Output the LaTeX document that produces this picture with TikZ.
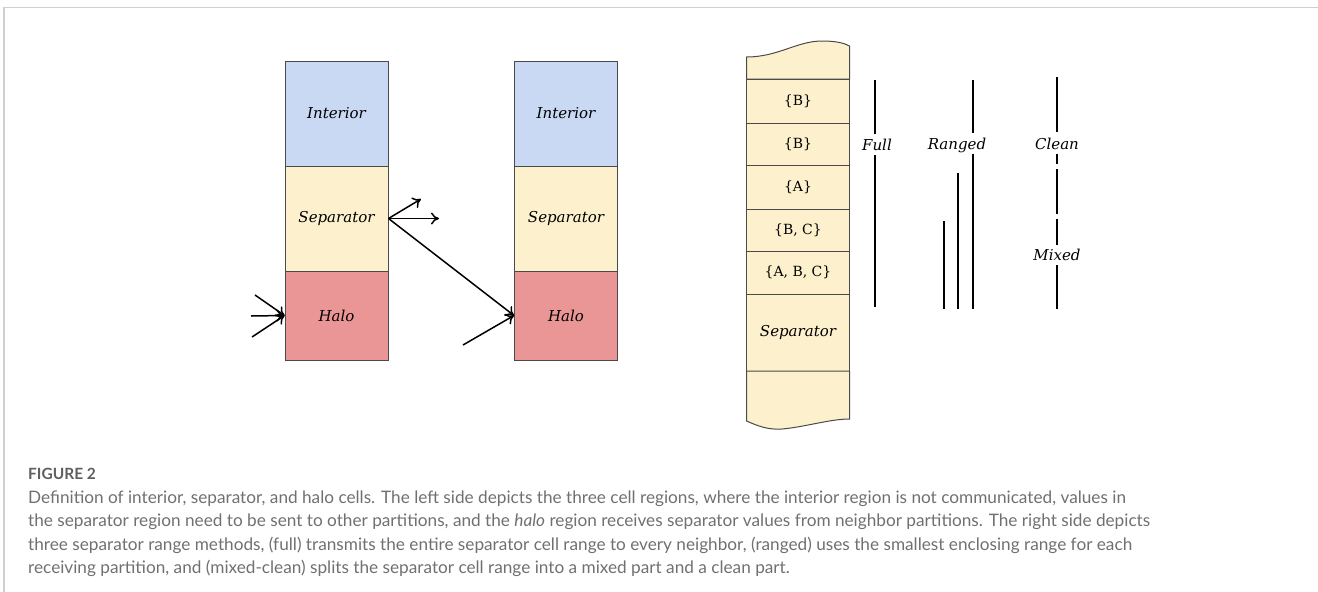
\documentclass[tikz,border=0pt]{standalone}
\usepackage{fontspec}
\setmainfont{DejaVu Serif}
\newfontfamily\capfont{Lato}
\usetikzlibrary{arrows.meta}
\definecolor{intblue}{HTML}{C9D9F3}
\definecolor{sepyel}{HTML}{FDF0CD}
\definecolor{halored}{HTML}{EA9697}
\definecolor{edgegray}{HTML}{4A4A4A}
\definecolor{framegray}{HTML}{CFCFCF}
\definecolor{capgray}{HTML}{707070}
\tikzset{
  cell/.style={draw=edgegray, line width=1pt, minimum width=103pt, inner sep=0pt,
    font=\fontsize{15}{18}\selectfont\itshape},
  row/.style={draw=edgegray, line width=1pt, fill=sepyel, minimum width=103pt, inner sep=0pt,
    font=\fontsize{14}{17}\selectfont},
  msg/.style={line width=1.5pt, -{To[length=8pt,width=12pt]}},
  rangebar/.style={line width=2.6pt},
  rlabel/.style={inner sep=0pt, font=\fontsize{15}{18}\selectfont\itshape},
  captxt/.style={anchor=base west, inner sep=0pt, text=capgray, font=\capfont\fontsize{17.2}{20}\selectfont}
}
\begin{document}
\begin{tikzpicture}[x=1pt, y=-1pt]
\useasboundingbox (0,0) rectangle (1318,592);
% page frame
\draw[framegray, line width=1.6pt] (4,592) -- (4,7.5) -- (1318,7.5);

% left partition
\node[cell, fill=intblue, minimum height=105pt] (i1) at (336.5,113.5) {Interior};
\node[cell, fill=sepyel, minimum height=105pt] (s1) at (336.5,218.5) {Separator};
\node[cell, fill=halored, minimum height=89pt] (h1) at (336.5,315.5) {Halo};
% right partition
\node[cell, fill=intblue, minimum height=105pt] (i2) at (566,113.5) {Interior};
\node[cell, fill=sepyel, minimum height=105pt] (s2) at (566,218.5) {Separator};
\node[cell, fill=halored, minimum height=89pt] (h2) at (566,315.5) {Halo};

% incoming messages to the left halo
\coordinate (a1) at (255,295);
\coordinate (a2) at (251,316);
\coordinate (a3) at (252,337);
\draw[msg] (a1) -- (h1.west);
\draw[msg] (a2) -- (h1.west);
\draw[msg] (a3) -- (h1.west);
% outgoing messages from the left separator
\coordinate (b1) at (421,199);
\coordinate (b2) at (439,218.5);
\draw[msg] (s1.east) -- (b1);
\draw[msg] (s1.east) -- (b2);
\draw[msg] (s1.east) -- (h2.west);
% incoming message to the right halo
\coordinate (c1) at (463,345);
\draw[msg] (c1) -- (h2.west);

% separator cell range (tape)
\draw[draw=edgegray, line width=1pt, fill=sepyel]
  (746.5,79) -- (746.5,57) .. controls (778,57) and (797,41) .. (822,41)
  .. controls (836,41) and (844,43) .. (849.5,46) -- (849.5,79) -- cycle;
\node[row, minimum height=44pt] (r1) at (798,101) {\{B\}};
\node[row, minimum height=42pt] (r2) at (798,144) {\{B\}};
\node[row, minimum height=44pt] (r3) at (798,187) {\{A\}};
\node[row, minimum height=42pt] (r4) at (798,230) {\{B, C\}};
\node[row, minimum height=43pt] (r5) at (798,272.5) {\{A, B, C\}};
\node[row, minimum height=77pt, font=\fontsize{15}{18}\selectfont\itshape] (rs) at (798,332.5) {Separator};
\draw[draw=edgegray, line width=1pt, fill=sepyel]
  (746.5,371) -- (746.5,421) .. controls (758,426) and (768,430) .. (782,429)
  .. controls (805,427) and (830,419) .. (849.5,419) -- (849.5,371) -- cycle;

% full range
\node[rlabel] (full) at (877,145) {Full};
\draw[rangebar] (875,80) -- (875,134);
\draw[rangebar] (875,155) -- (875,307);
% ranged
\node[rlabel] (ranged) at (957,145) {Ranged};
\draw[rangebar] (973,80) -- (973,133);
\draw[rangebar] (973,154) -- (973,309);
\draw[rangebar] (958,173) -- (958,309);
\draw[rangebar] (944,221) -- (944,309);
% mixed / clean
\node[rlabel] (clean) at (1057,144) {Clean};
\node[rlabel] (mixed) at (1057,255) {Mixed};
\draw[rangebar] (1057,77) -- (1057,132);
\draw[rangebar] (1057,154) -- (1057,164);
\draw[rangebar] (1057,169) -- (1057,214);
\draw[rangebar] (1057,219) -- (1057,245);
\draw[rangebar] (1057,265) -- (1057,309);

% caption
\node[captxt, font=\capfont\fontsize{15.5}{18}\selectfont\bfseries, text=capgray!85!black] (fig) at (28,479) {FIGURE 2};
\node[captxt] (l1) at (28,503) {Definition of interior, separator, and halo cells. The left side depicts the three cell regions, where the interior region is not communicated, values in};
\node[captxt] (l2) at (28,526.5) {the separator region need to be sent to other partitions, and the \textit{halo} region receives separator values from neighbor partitions. The right side depicts};
\node[captxt] (l3) at (28,550) {three separator range methods, (full) transmits the entire separator cell range to every neighbor, (ranged) uses the smallest enclosing range for each};
\node[captxt] (l4) at (28,573.5) {receiving partition, and (mixed-clean) splits the separator cell range into a mixed part and a clean part.};
\end{tikzpicture}
\end{document}
